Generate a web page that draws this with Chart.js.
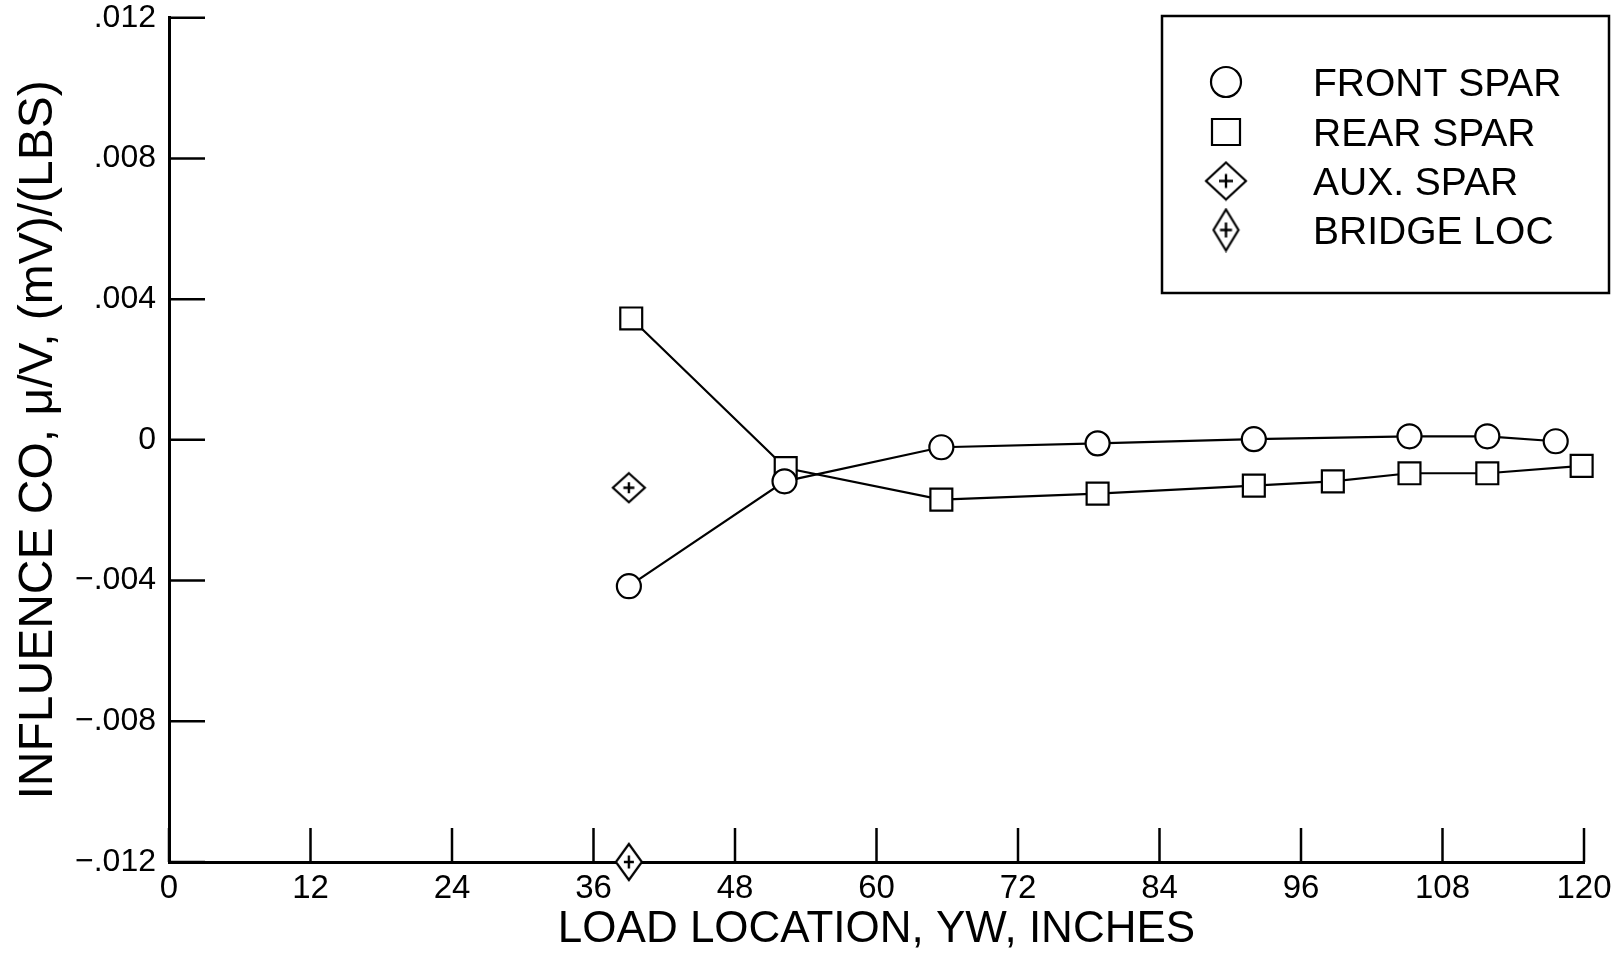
<!DOCTYPE html>
<html><head><meta charset="utf-8">
<script src="https://cdn.jsdelivr.net/npm/chart.js@4.4.1/dist/chart.umd.min.js"></script>
<style>html,body{margin:0;padding:0;background:#fff;}#wrap{width:1621px;height:957px;}</style>
</head><body><div id="wrap"><canvas id="c" width="1621" height="957"></canvas></div>
<script>
// ---- data ----
const frontX = [39, 52.2, 65.5, 78.75, 92, 105.2, 111.8, 117.6];
const frontY = [-0.00416, -0.00118, -0.00021, -0.0001, 0.00002, 0.0001, 0.0001, -0.00004];
const rearX = [39.2, 52.3, 65.5, 78.75, 92, 98.7, 105.2, 111.8, 119.8];
const rearY = [0.00345, -0.0008, -0.0017, -0.00153, -0.0013, -0.00118, -0.00095, -0.00095, -0.00074];
const auxX = [39];
const auxY = [-0.00136];
const bridgeX = [39];
const bridgeY = [-0.012];
const seriesLabels = ['FRONT SPAR', 'REAR SPAR', 'AUX. SPAR', 'BRIDGE LOC'];
const xTickValues = [0, 12, 24, 36, 48, 60, 72, 84, 96, 108, 120];
const xTickLabels = ['0', '12', '24', '36', '48', '60', '72', '84', '96', '108', '120'];
const yTickValues = [-0.012, -0.008, -0.004, 0, 0.004, 0.008, 0.012];
const yTickLabels = ['\u2212.012', '\u2212.008', '\u2212.004', '0', '.004', '.008', '.012'];
const xTitle = 'LOAD LOCATION, YW, INCHES';
const yTitle = 'INFLUENCE CO, \u03BC/V, (mV)/(LBS)';

const FONT = '"Liberation Sans", Arial, sans-serif';

function makeDiamond(w, h, pw, ph) {
  const c = document.createElement('canvas');
  c.width = w + 4; c.height = h + 4;
  const g = c.getContext('2d');
  const cx = c.width / 2, cy = c.height / 2;
  g.beginPath();
  g.moveTo(cx, 2); g.lineTo(w + 2, cy); g.lineTo(cx, h + 2); g.lineTo(2, cy); g.closePath();
  g.fillStyle = '#fff'; g.fill();
  g.lineWidth = 2.2; g.strokeStyle = '#000'; g.stroke();
  g.lineWidth = 2.4;
  g.beginPath();
  g.moveTo(cx - pw / 2, cy); g.lineTo(cx + pw / 2, cy);
  g.moveTo(cx, cy - ph / 2); g.lineTo(cx, cy + ph / 2);
  g.stroke();
  return c;
}
const auxPt = makeDiamond(32, 29, 11, 11);
const bridgePt = makeDiamond(26, 36, 10, 13);
const auxLeg = makeDiamond(40, 37, 14, 14);
const bridgeLeg = makeDiamond(25, 41, 12, 15);

const inwardTicks = {
  id: 'inwardTicks',
  beforeDatasetsDraw(chart) {
    const { ctx, chartArea: a, scales: { x, y } } = chart;
    ctx.save();
    ctx.strokeStyle = '#000';
    ctx.lineWidth = 2.5;
    xTickValues.forEach(v => {
      const px = x.getPixelForValue(v);
      ctx.beginPath(); ctx.moveTo(px, a.bottom); ctx.lineTo(px, a.bottom - 34); ctx.stroke();
    });
    yTickValues.forEach(v => {
      const py = y.getPixelForValue(v);
      ctx.beginPath(); ctx.moveTo(a.left, py); ctx.lineTo(a.left + 36, py); ctx.stroke();
    });
    ctx.restore();
  }
};

const boxLegend = {
  id: 'boxLegend',
  afterDraw(chart) {
    const ctx = chart.ctx;
    ctx.save();
    ctx.strokeStyle = '#000';
    ctx.lineWidth = 2.5;
    ctx.strokeRect(1162, 16, 447, 277);
    const rows = [82, 132, 181, 230];
    const symX = 1226;
    ctx.lineWidth = 2.2;
    ctx.fillStyle = '#fff';
    ctx.beginPath(); ctx.arc(symX, rows[0], 15, 0, Math.PI * 2); ctx.fill(); ctx.stroke();
    ctx.beginPath(); ctx.rect(symX - 14, rows[1] - 13, 28, 26); ctx.fill(); ctx.stroke();
    ctx.drawImage(auxLeg, symX - auxLeg.width / 2, rows[2] - auxLeg.height / 2);
    ctx.drawImage(bridgeLeg, symX - bridgeLeg.width / 2, rows[3] - bridgeLeg.height / 2);
    ctx.fillStyle = '#000';
    ctx.font = '39px ' + FONT;
    ctx.textBaseline = 'alphabetic';
    ctx.textAlign = 'left';
    chart.data.datasets.forEach((ds, i) => {
      ctx.fillText(ds.label, 1313, rows[i] + 14);
    });
    ctx.restore();
  }
};

const pts = (xs, ys) => xs.map((x, i) => ({ x: x, y: ys[i] }));

new Chart(document.getElementById('c'), {
  type: 'scatter',
  data: {
    datasets: [
      { label: seriesLabels[0], data: pts(frontX, frontY), showLine: true, borderColor: '#000', borderWidth: 2.2,
        pointStyle: 'circle', pointRadius: 12, pointBackgroundColor: '#fff', pointBorderColor: '#000', pointBorderWidth: 2.2, clip: false },
      { label: seriesLabels[1], data: pts(rearX, rearY), showLine: true, borderColor: '#000', borderWidth: 2.2,
        pointStyle: 'rect', pointRadius: 15.5, pointBackgroundColor: '#fff', pointBorderColor: '#000', pointBorderWidth: 2.2, clip: false },
      { label: seriesLabels[2], data: pts(auxX, auxY), showLine: false, pointStyle: auxPt, pointRadius: 15, clip: false },
      { label: seriesLabels[3], data: pts(bridgeX, bridgeY), showLine: false, pointStyle: bridgePt, pointRadius: 15, clip: false }
    ]
  },
  options: {
    responsive: false,
    animation: false,
    devicePixelRatio: 1,
    events: [],
    layout: { padding: { left: 0, right: 37, top: 13, bottom: 0 } },
    plugins: { legend: { display: false }, tooltip: { enabled: false } },
    scales: {
      x: {
        type: 'linear', min: 0, max: 120,
        afterBuildTicks: s => { s.ticks = xTickValues.map(v => ({ value: v })); },
        afterFit: s => { s.height = 95; s.paddingLeft = 0; s.paddingRight = 0; },
        grid: { display: false, drawTicks: false },
        border: { display: true, color: '#000', width: 3 },
        ticks: { color: '#000', padding: 7, maxRotation: 0, autoSkip: false,
          font: { family: FONT, size: 33, lineHeight: 1.2 },
          callback: (v) => { const i = xTickValues.indexOf(v); return i >= 0 ? xTickLabels[i] : ''; } },
        title: { display: true, text: xTitle, color: '#000', padding: { top: 0, bottom: 1 },
          font: { family: FONT, size: 44, lineHeight: 1.2 } }
      },
      y: {
        type: 'linear', min: -0.012, max: 0.012,
        afterBuildTicks: s => { s.ticks = yTickValues.map(v => ({ value: v })); },
        afterFit: s => { s.width = 169; s.paddingTop = 0; s.paddingBottom = 0; },
        grid: { display: false, drawTicks: false },
        border: { display: true, color: '#000', width: 3 },
        ticks: { color: '#000', padding: 13, autoSkip: false,
          font: { family: FONT, size: 32, lineHeight: 1.2 },
          callback: (v) => { const i = yTickValues.findIndex(t => Math.abs(t - v) < 1e-9); return i >= 0 ? yTickLabels[i] : ''; } },
        title: { display: true, text: yTitle, color: '#000', padding: { top: 10, bottom: 0 },
          font: { family: FONT, size: 48, lineHeight: 1.2 } }
      }
    }
  },
  plugins: [inwardTicks, boxLegend]
});
</script>
</body></html>
